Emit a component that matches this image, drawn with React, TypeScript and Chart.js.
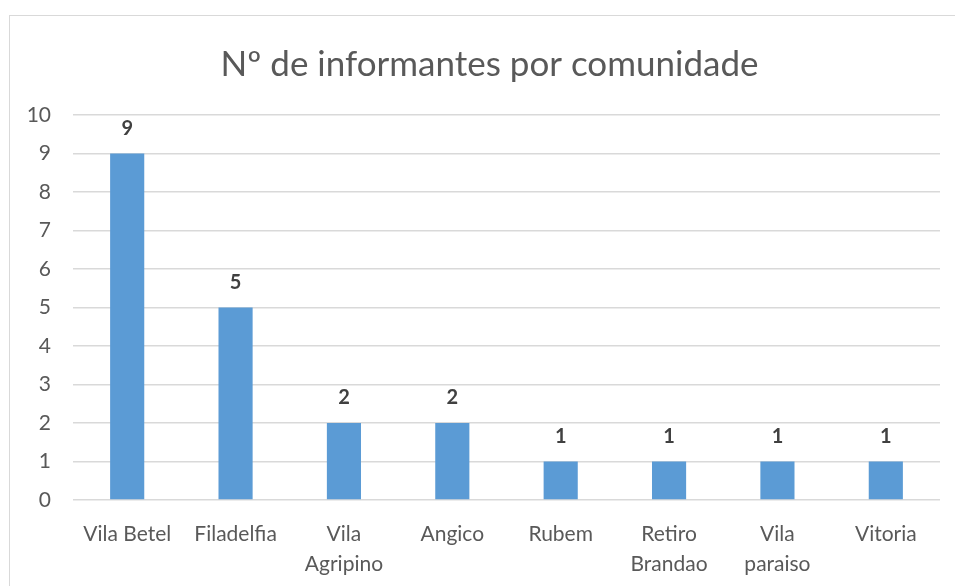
import React, { useEffect, useRef } from "react";
import { Chart, registerables } from "chart.js";

Chart.register(...registerables);

const titleText = "Nº de informantes por comunidade";
const categories: (string | string[])[] = [
  "Vila Betel",
  "Filadelfia",
  ["Vila", "Agripino"],
  "Angico",
  "Rubem",
  ["Retiro", "Brandao"],
  ["Vila", "paraiso"],
  "Vitoria",
];
const informantes = [9, 5, 2, 2, 1, 1, 1, 1];
const yTicks = [0, 1, 2, 3, 4, 5, 6, 7, 8, 9, 10];

const FONT = "Lato, 'Liberation Sans', sans-serif";

const dataLabelPlugin = {
  id: "dataLabels",
  afterLayout(chart: any) {
    // center the title on the framed chart box (not on the canvas)
    if (chart.titleBlock) {
      chart.titleBlock.left = 24;
      chart.titleBlock.right = 955;
    }
  },
  afterDatasetsDraw(chart: any) {
    const ctx = chart.ctx;
    const meta = chart.getDatasetMeta(0);
    ctx.save();
    ctx.font = `bold 20px ${FONT}`;
    ctx.fillStyle = "#404040";
    ctx.textAlign = "center";
    ctx.textBaseline = "middle";
    meta.data.forEach((bar: any, i: number) => {
      ctx.fillText(String(chart.data.datasets[0].data[i]), bar.x, bar.y - 25);
    });
    ctx.restore();
  },
};

export default function App() {
  const ref = useRef<HTMLCanvasElement>(null);
  useEffect(() => {
    document.body.style.overflow = "hidden";
    const chart = new Chart(ref.current!, {
      type: "bar",
      data: {
        labels: categories,
        datasets: [
          {
            data: informantes,
            backgroundColor: "#5B9BD5",
            categoryPercentage: 1,
            barPercentage: 0.315,
          },
        ],
      },
      options: {
        responsive: false,
        animation: false,
        layout: { padding: { left: 0, right: 15, top: 0, bottom: 0 } },
        plugins: {
          legend: { display: false },
          tooltip: { enabled: false },
          title: {
            display: true,
            text: titleText,
            color: "#595959",
            font: { family: FONT, size: 35, weight: "normal" as any, lineHeight: 1.2 },
            padding: { top: 44, bottom: 29 },
          },
        },
        scales: {
          y: {
            min: 0,
            max: 10,
            afterBuildTicks: (s: any) => {
              s.ticks = yTicks.map((v) => ({ value: v }));
            },
            afterFit: (s: any) => {
              s.width = 73;
            },
            grid: { color: "#d9d9d9", lineWidth: 1.5, drawTicks: false },
            border: { display: false },
            ticks: {
              color: "#595959",
              font: { family: FONT, size: 21 },
              padding: 22,
            },
          },
          x: {
            afterFit: (s: any) => {
              s.height = 86;
            },
            grid: { display: false, drawTicks: false },
            border: { display: false },
            ticks: {
              color: "#595959",
              font: { family: FONT, size: 21, lineHeight: 1.4 },
              padding: 20,
              maxRotation: 0,
              autoSkip: false,
            },
          },
        },
      },
      plugins: [dataLabelPlugin],
    });
    return () => chart.destroy();
  }, []);
  return (
    <div style={{ position: "fixed", left: 0, top: 0, width: 955, height: 586, background: "#fff" }}>
      <div
        style={{
          position: "absolute",
          left: 9,
          top: 15,
          width: 960,
          height: 600,
          border: "1.5px solid #d9d9d9",
          boxSizing: "border-box",
        }}
      />
      <canvas ref={ref} width={955} height={586} style={{ position: "absolute", left: 0, top: 0 }} />
    </div>
  );
}
